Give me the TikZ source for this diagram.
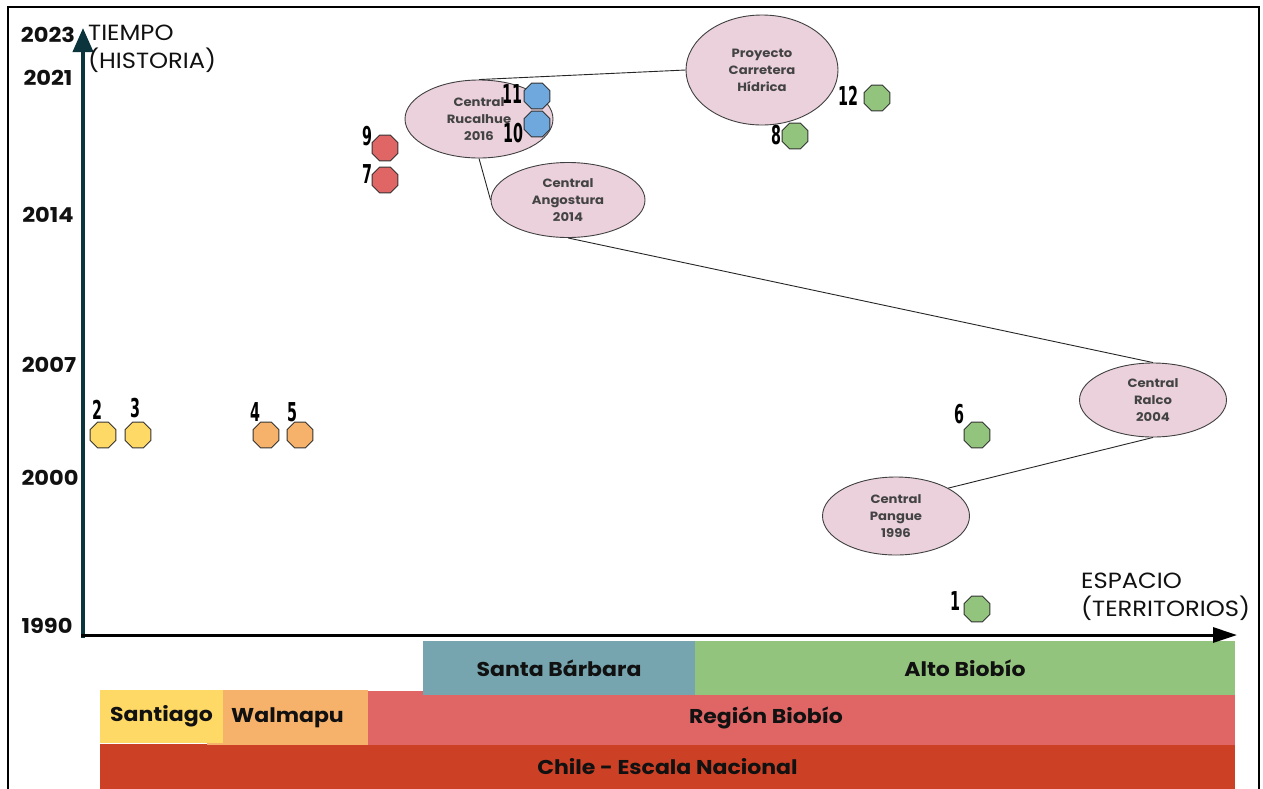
\documentclass[tikz,border=0pt]{standalone}
\usepackage{fontspec}
\setmainfont{Poppins}[FakeStretch=1.1]
\newfontfamily\numfont{DejaVu Sans}[FakeStretch=0.55]
\usetikzlibrary{shapes.geometric,arrows.meta}
\definecolor{cYel}{HTML}{FFD966}
\definecolor{cOra}{HTML}{F6B26B}
\definecolor{cRed}{HTML}{E06666}
\definecolor{cBlu}{HTML}{6FA8DC}
\definecolor{cGre}{HTML}{93C47D}
\definecolor{cTeal}{HTML}{76A5AF}
\definecolor{cChile}{HTML}{CC4125}
\definecolor{cPink}{HTML}{EAD1DC}
\definecolor{cAxis}{HTML}{0C343D}
\definecolor{cTxt}{HTML}{434343}
\definecolor{cDark}{HTML}{111111}
\tikzset{
  oct/.style={regular polygon, regular polygon sides=8, minimum size=28pt, inner sep=0pt,
    draw=black!80, line width=0.9pt, fill=#1},
  num/.style={font=\numfont\bfseries\fontsize{26}{26}\selectfont, inner sep=0pt, text=black},
  ell/.style={ellipse, draw=black!75, line width=0.9pt, fill=cPink, inner sep=0pt, align=center,
    text=cTxt, font=\bfseries\fontsize{12}{17}\selectfont},
  band/.style={rectangle, inner sep=0pt, draw=none, text=cDark,
    font=\bfseries\fontsize{20}{20}\selectfont},
  year/.style={inner sep=0pt, text=cDark, font=\bfseries\fontsize{20.5}{20}\selectfont},
  axlab/.style={inner sep=0pt, align=left, text=cDark, font=\fontsize{22}{28}\selectfont},
  conn/.style={draw=black!85, line width=0.9pt},
}
\begin{document}
\begin{tikzpicture}[x=1pt,y=-1pt]
\useasboundingbox (0,0) rectangle (1263,788);
\fill[white] (0,0) rectangle (1263,788);
% frame
\draw[black, line width=2pt] (8,795) -- (8,7) -- (1259,7) -- (1259,795);

% bottom bands
\node[band, fill=cChile, minimum width=1135pt, minimum height=47pt] (chile) at (667.5,767) {Chile - Escala Nacional};
\node[band, fill=cRed, minimum width=938pt, minimum height=54pt] (region) at (766,718) {Región Biobío};
\node[band, fill=cOra, minimum width=161pt, minimum height=55pt] (walmapu) at (287.5,717.5) {Walmapu};
\node[band, fill=cYel, minimum width=123pt, minimum height=53pt] (santiago) at (161.5,716.5) {Santiago};
\node[band, fill=cTeal, minimum width=272pt, minimum height=54pt] (stabarbara) at (559,668) {Santa Bárbara};
\node[band, fill=cGre, minimum width=540pt, minimum height=54pt] (altobiobio) at (965,668) {Alto Biobío};

% axes
\coordinate (yorig) at (83,638);
\coordinate (ytip) at (83,28);
\coordinate (xorig) at (81,635);
\coordinate (xtip) at (1237,635);
\draw[cAxis, line width=4pt, -{Triangle[length=24pt,width=20pt]}] (yorig) -- (ytip);
\draw[black, line width=3pt, -{Triangle[length=24pt,width=15pt]}] (xorig) -- (xtip);

% axis labels
\node[axlab, anchor=west] (tiempo) at (88,49) {TIEMPO\\(HISTORIA)};
\node[axlab, anchor=west] (espacio) at (1081,597) {ESPACIO\\(TERRITORIOS)};

% years
\node[year] (y2023) at (48,35) {2023};
\node[year] (y2021) at (48,78) {2021};
\node[year] (y2014) at (48,215) {2014};
\node[year] (y2007) at (49,365) {2007};
\node[year] (y2000) at (50,478) {2000};
\node[year] (y1990) at (47,626) {1990};

% ellipses
\node[ell, minimum width=152pt, minimum height=110pt] (proy) at (762,70) {Proyecto\\Carretera\\Hídrica};
\node[ell, minimum width=148pt, minimum height=78pt] (ruc) at (479,119) {Central\\Rucalhue\\2016};
\node[ell, minimum width=154pt, minimum height=75pt] (ang) at (568,200) {Central\\Angostura\\2014};
\node[ell, minimum width=147pt, minimum height=74pt] (ralco) at (1153,400) {Central\\Ralco\\2004};
\node[ell, minimum width=147pt, minimum height=78pt] (pan) at (896,516) {Central\\Pangue\\1996};

% connectors
\draw[conn] (ruc.north) -- (proy.west);
\draw[conn] (ruc.south) -- (ang.west);
\draw[conn] (ang.south) -- (ralco.north);
\draw[conn] (ralco.south) -- (pan.north east);

% octagons
\node[oct=cGre] (o1) at (977,609) {};
\node[oct=cYel] (o2) at (103,435) {};
\node[oct=cYel] (o3) at (138,435) {};
\node[oct=cOra] (o4) at (266,435) {};
\node[oct=cOra] (o5) at (300,435) {};
\node[oct=cGre] (o6) at (977,435) {};
\node[oct=cRed] (o7) at (385,180) {};
\node[oct=cGre] (o8) at (795,136) {};
\node[oct=cRed] (o9) at (385,148) {};
\node[oct=cBlu] (o10) at (537,124) {};
\node[oct=cBlu] (o11) at (537,96) {};
\node[oct=cGre] (o12) at (877,98) {};

% numbers
\node[num] (l1) at (955,601) {1};
\node[num] (l2) at (97,410) {2};
\node[num] (l3) at (135,408) {3};
\node[num] (l4) at (255,412) {4};
\node[num] (l5) at (292,412) {5};
\node[num] (l6) at (959,414) {6};
\node[num] (l7) at (367,174) {7};
\node[num] (l8) at (776,135) {8};
\node[num] (l9) at (367,136) {9};
\node[num] (l10) at (513,133) {10};
\node[num] (l11) at (512,94) {11};
\node[num] (l12) at (848,96) {12};
\end{tikzpicture}
\end{document}
